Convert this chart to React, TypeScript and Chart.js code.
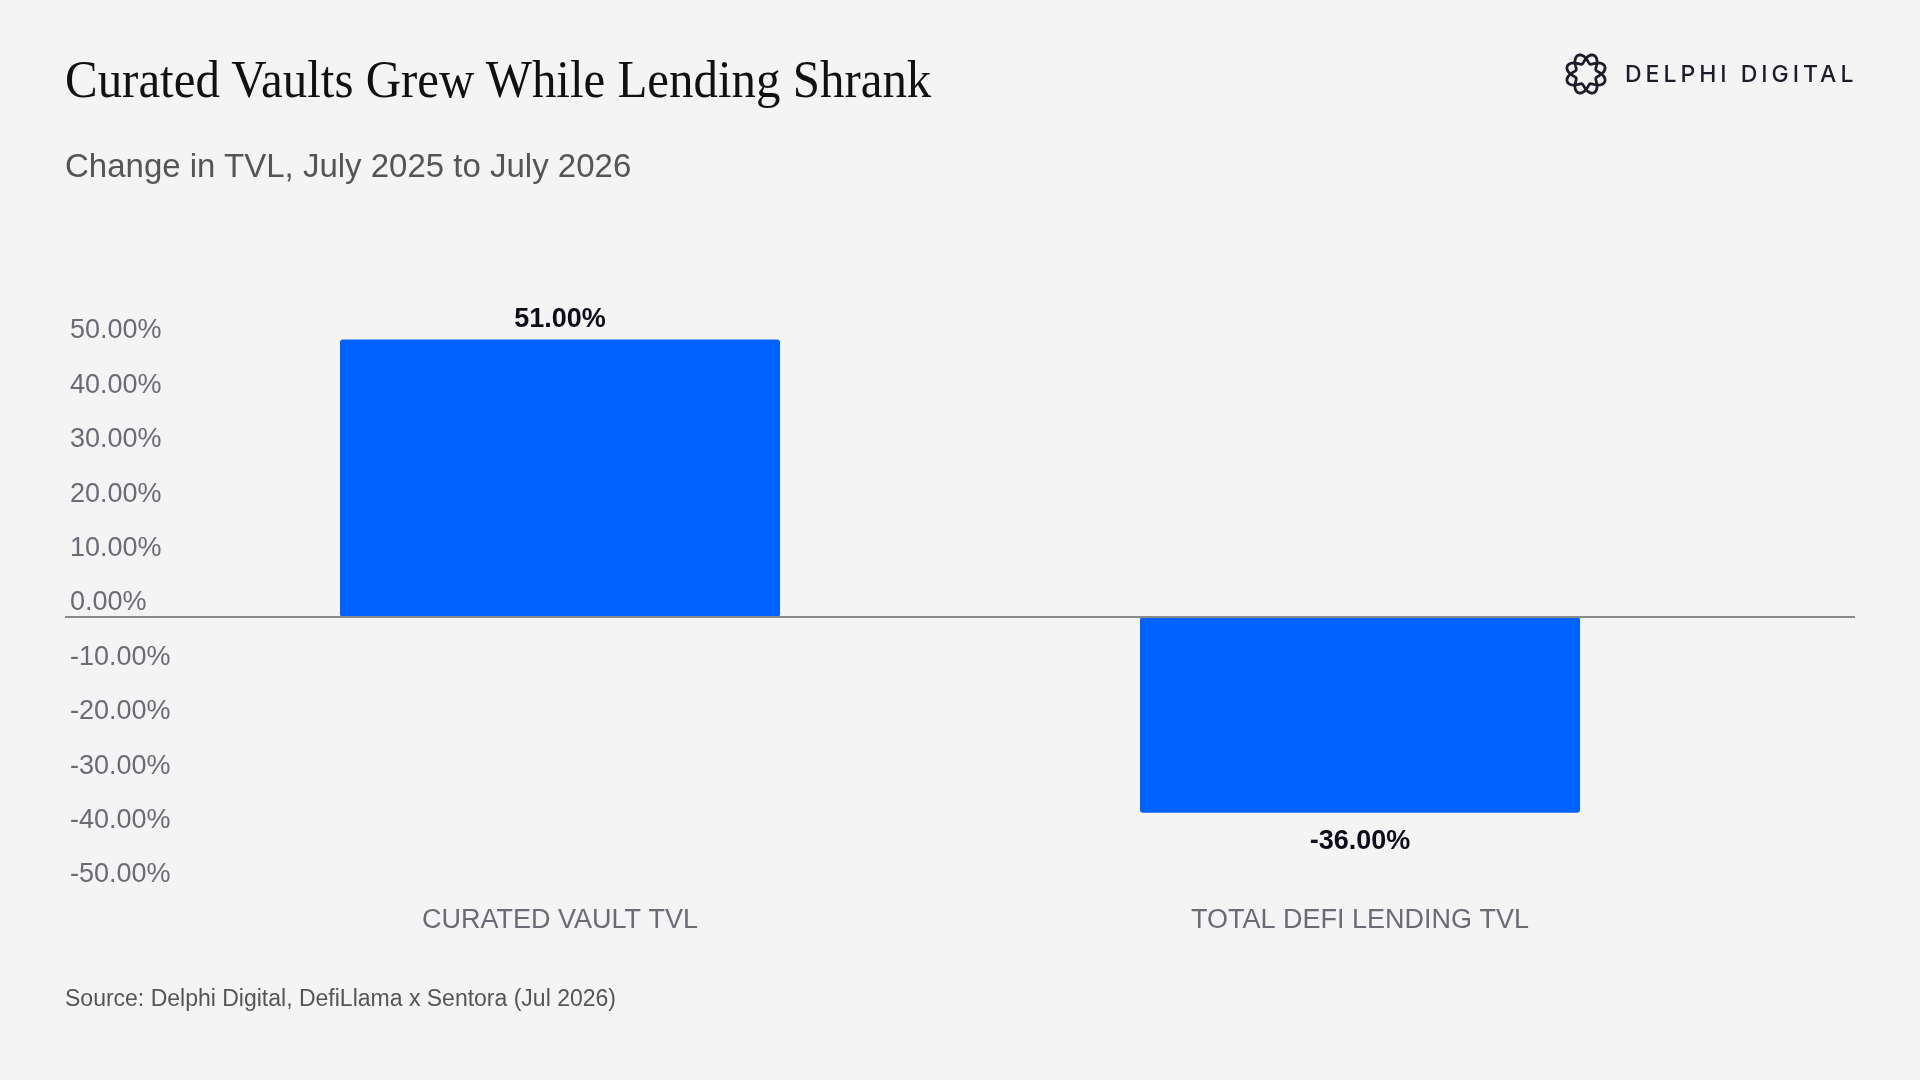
import React, { useEffect, useRef } from "react";
import { Chart, registerables, Plugin } from "chart.js";

Chart.register(...registerables);

const categories = ["CURATED VAULT TVL", "TOTAL DEFI LENDING TVL"];
const tvlChange = [51, -36];
const yTicks = [-50, -40, -30, -20, -10, 0, 10, 20, 30, 40, 50];

const SANS = '"Liberation Sans", Arial, Helvetica, sans-serif';
const BAR_BLUE = "#0062ff";

// zero line runs across the whole width, not only the plot area
const zeroLinePlugin: Plugin = {
  id: "zeroLine",
  afterDatasetsDraw(chart) {
    const y = chart.scales.y.getPixelForValue(0);
    const ctx = chart.ctx;
    ctx.save();
    ctx.strokeStyle = "#8a8a8a";
    ctx.lineWidth = 2;
    ctx.beginPath();
    ctx.moveTo(65, y);
    ctx.lineTo(1855, y);
    ctx.stroke();
    ctx.restore();
  },
};

// value labels above / below each bar
const valueLabelPlugin: Plugin = {
  id: "valueLabels",
  afterDatasetsDraw(chart) {
    const ctx = chart.ctx;
    const meta = chart.getDatasetMeta(0);
    ctx.save();
    ctx.font = `bold 27px ${SANS}`;
    ctx.fillStyle = "#0d0d1a";
    ctx.textAlign = "center";
    ctx.textBaseline = "middle";
    meta.data.forEach((bar: any, i) => {
      const v = tvlChange[i];
      const y = v >= 0 ? bar.y - 20 : bar.y + 29;
      ctx.fillText(v.toFixed(2) + "%", bar.x, y);
    });
    ctx.restore();
  },
};

const TvlChart: React.FC = () => {
  const canvasRef = useRef<HTMLCanvasElement>(null);
  const chartRef = useRef<Chart | null>(null);

  useEffect(() => {
    if (chartRef.current) chartRef.current.destroy();
    if (!canvasRef.current) return;

    chartRef.current = new Chart(canvasRef.current, {
      type: "bar",
      data: {
        labels: categories,
        datasets: [
          {
            data: tvlChange,
            backgroundColor: BAR_BLUE,
            borderRadius: 3,
            borderSkipped: false,
            categoryPercentage: 1,
            barPercentage: 0.55,
            clip: false as any,
          },
        ],
      },
      options: {
        animation: false,
        responsive: false,
        maintainAspectRatio: false,
        layout: { padding: { left: 70, right: 160, top: 345, bottom: 131 } },
        plugins: {
          legend: { display: false },
          tooltip: { enabled: false },
        },
        scales: {
          x: {
            grid: { display: false, drawTicks: false },
            border: { display: false },
            ticks: {
              color: "#6b6b75",
              font: { family: SANS, size: 27 },
              padding: 15,
            },
            afterFit(scale) {
              scale.height = 60;
            },
          },
          y: {
            min: -50,
            max: 50,
            afterBuildTicks(scale) {
              scale.ticks = yTicks.map((value) => ({ value }));
            },
            grid: { display: false, drawTicks: false },
            border: { display: false },
            ticks: {
              color: "#6b6b75",
              font: { family: SANS, size: 27 },
              // mirrored labels are not clipped to the axis box; pull them back to the left edge
              mirror: true,
              crossAlign: "near",
              padding: -90,
              labelOffset: -14,
              callback: (v) => Number(v).toFixed(2) + "%",
            },
            afterFit(scale) {
              scale.width = 90;
            },
          },
        },
      },
      plugins: [zeroLinePlugin, valueLabelPlugin],
    });

    return () => {
      if (chartRef.current) {
        chartRef.current.destroy();
        chartRef.current = null;
      }
    };
  }, []);

  return (
    <canvas
      ref={canvasRef}
      width={1920}
      height={1080}
      style={{ position: "absolute", left: 0, top: 0, width: 1920, height: 1080 }}
    />
  );
};

// braided ring mark
const ringPath = (sign: number) => {
  const pts: string[] = [];
  for (let k = 0; k <= 96; k++) {
    const t = (k / 96) * Math.PI * 2;
    const r = 15.5 + sign * 4.8 * Math.sin(4 * t);
    pts.push(`${(r * Math.cos(t)).toFixed(2)},${(r * Math.sin(t)).toFixed(2)}`);
  }
  return "M" + pts.join(" L") + " Z";
};

const Logo: React.FC = () => {
  return (
    <div style={{ position: "absolute", left: 1562, top: 50, display: "flex", alignItems: "center" }}>
      <svg width={48} height={48} viewBox="-24 -24 48 48">
        <path d={ringPath(1)} fill="none" stroke="#1c1c2b" strokeWidth={2.8} />
        <path d={ringPath(-1)} fill="none" stroke="#1c1c2b" strokeWidth={2.8} />
      </svg>
      <span
        style={{
          marginLeft: 15,
          fontFamily: "Inter, " + SANS,
          fontWeight: 500,
          fontSize: 23,
          letterSpacing: 4,
          color: "#1c1c2b",
          lineHeight: 1,
        }}
      >
        DELPHI DIGITAL
      </span>
    </div>
  );
};

const App: React.FC = () => {
  return (
    <div
      style={{
        position: "fixed",
        left: 0,
        top: 0,
        width: 1920,
        height: 1080,
        background: "#f4f4f4",
        overflow: "hidden",
      }}
    >
      <TvlChart />
      <div
        style={{
          position: "absolute",
          left: 65,
          top: 53,
          fontFamily: '"Liberation Serif", "Times New Roman", serif',
          fontSize: 53,
          lineHeight: 1,
          color: "#111111",
          whiteSpace: "nowrap",
          transform: "scaleX(0.923)",
          transformOrigin: "left top",
        }}
      >
        Curated Vaults Grew While Lending Shrank
      </div>
      <div
        style={{
          position: "absolute",
          left: 65,
          top: 149,
          fontFamily: SANS,
          fontSize: 33,
          lineHeight: 1,
          color: "#555555",
          whiteSpace: "nowrap",
        }}
      >
        Change in TVL, July 2025 to July 2026
      </div>
      <div
        style={{
          position: "absolute",
          left: 65,
          top: 987,
          fontFamily: SANS,
          fontSize: 23,
          lineHeight: 1,
          color: "#555555",
          whiteSpace: "nowrap",
        }}
      >
        Source: Delphi Digital, DefiLlama x Sentora (Jul 2026)
      </div>
      <Logo />
    </div>
  );
};

export default App;
